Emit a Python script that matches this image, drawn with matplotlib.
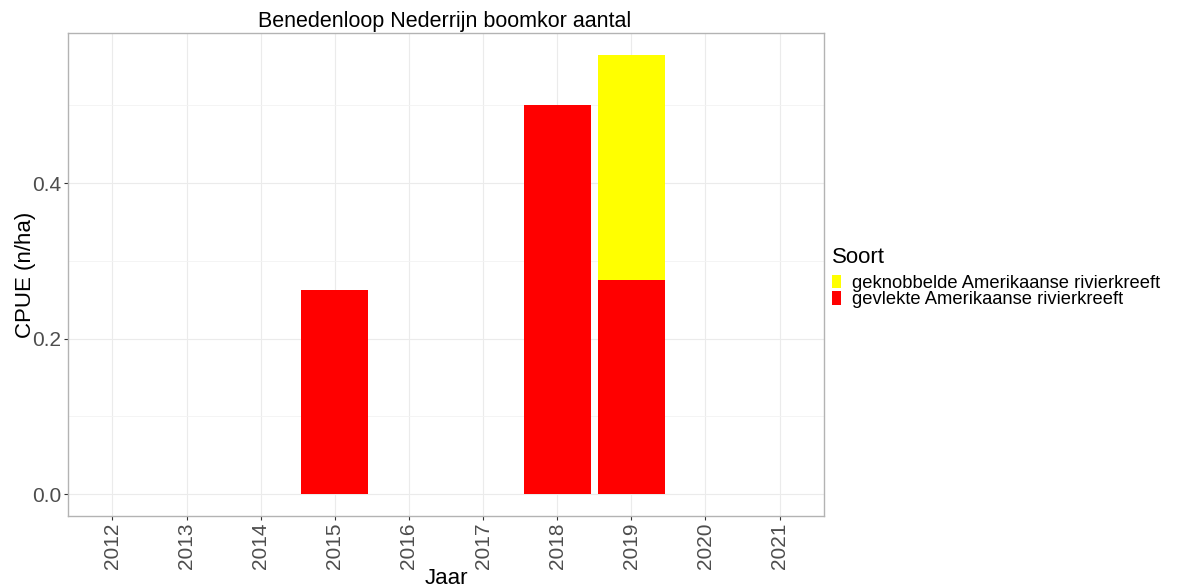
import matplotlib.pyplot as plt
from matplotlib.patches import Patch
import numpy as np

plt.rcParams['font.family'] = ['Liberation Sans', 'DejaVu Sans']

# Gegevens
jaren = ['2012', '2013', '2014', '2015', '2016', '2017', '2018', '2019', '2020', '2021']
gevlekt = [0, 0, 0, 0.262, 0, 0, 0.500, 0.276, 0, 0]
geknobbeld = [0, 0, 0, 0, 0, 0, 0, 0.289, 0, 0]
soorten = ['geknobbelde Amerikaanse rivierkreeft', 'gevlekte Amerikaanse rivierkreeft']
kleuren = ['#FFFF00', '#FF0000']

fig = plt.figure(figsize=(11.79, 5.88), dpi=100)
ax = fig.add_axes([68 / 1179, 72 / 588, 756 / 1179, 483 / 588])

x = np.arange(1, len(jaren) + 1)
ax.bar(x, gevlekt, width=0.9, color=kleuren[1], zorder=2)
ax.bar(x, geknobbeld, width=0.9, bottom=gevlekt, color=kleuren[0], zorder=2)

totaal = np.array(gevlekt) + np.array(geknobbeld)
ymax = totaal.max()
ax.set_ylim(-0.05 * ymax, 1.05 * ymax)
ax.set_xlim(0.4, len(jaren) + 0.6)

# Rasterlijnen
ax.set_xticks(x)
ax.set_xticklabels(jaren, rotation=90, fontsize=15, color='#4D4D4D')
ax.set_yticks([0.0, 0.2, 0.4])
ax.set_yticklabels(['0.0', '0.2', '0.4'], fontsize=15, color='#4D4D4D')
ax.set_yticks([0.1, 0.3, 0.5], minor=True)
ax.grid(which='major', color='#EBEBEB', linewidth=0.8, zorder=0)
ax.grid(which='minor', axis='y', color='#F3F3F3', linewidth=0.6, zorder=0)
ax.tick_params(which='major', length=3, color='#333333', pad=2)
ax.tick_params(which='minor', length=0)
for s in ax.spines.values():
    s.set_color('#B3B3B3')
    s.set_linewidth(1.0)
ax.set_axisbelow(True)

ax.set_ylabel('CPUE (n/ha)', fontsize=16)
ax.yaxis.set_label_coords(-0.042, 0.5)
ax.set_xlabel('Jaar', fontsize=16, va='center')
ax.xaxis.set_label_coords(0.5, -0.13)

fig.text(445 / 1179, 1 - 22 / 588, 'Benedenloop Nederrijn boomkor aantal',
         fontsize=15.5, ha='center', va='center')

handles = [Patch(facecolor=k, edgecolor='none') for k in kleuren]
leg = fig.legend(handles, soorten, title='Soort', loc='upper left',
                 bbox_to_anchor=(825 / 1179, 1 - 240 / 588), frameon=False,
                 fontsize=13.2, title_fontsize=16, handlelength=0.48,
                 handleheight=0.76, labelspacing=-0.04, handletextpad=0.6,
                 borderaxespad=0)
leg._legend_box.align = 'left'
leg._legend_box.sep = 4.5

fig.savefig('out.png', dpi=100)
